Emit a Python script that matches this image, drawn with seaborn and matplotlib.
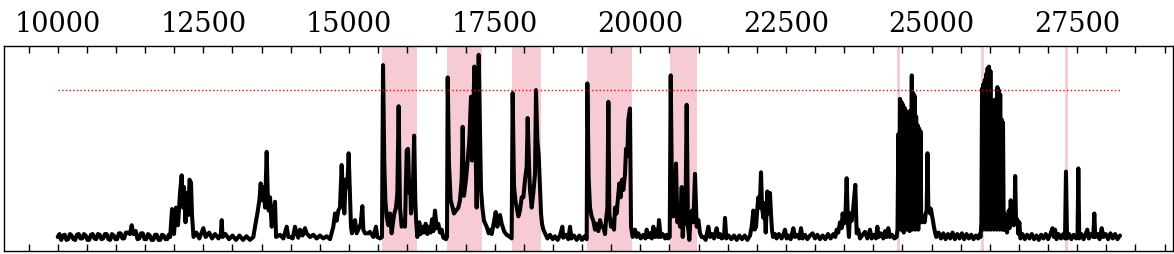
import numpy as np
import pandas as pd
import matplotlib
matplotlib.use("Agg")
import matplotlib.pyplot as plt
from matplotlib.ticker import MultipleLocator
import seaborn as sns

# ---------------- data ----------------
x_part1 = [10000, 10030, 10060, 10090, 10120, 10150, 10180, 10210, 10240, 10270,
           10300, 10330, 10360, 10390, 10420, 10450, 10480, 10510, 10540, 10570,
           10600, 10630, 10660, 10690, 10720, 10750, 10780, 10810, 10840, 10870,
           10900, 10930, 10960, 10990, 11020, 11050, 11080, 11110, 11140, 11170,
           11200, 11240, 11270, 11300, 11340, 11370, 11400, 11430, 11460, 11490,
           11520, 11550, 11580, 11610, 11640, 11670, 11700, 11730, 11760, 11790,
           11820, 11850, 11880, 11905, 11930]
y_part1 = [0.0, 0.02, -0.02, 0.01, 0.015, -0.02, -0.015, 0.02, 0.01, -0.015,
           -0.02, 0.015, 0.02, -0.01, -0.01, 0.02, 0.01, -0.02, -0.02, 0.015,
           0.02, -0.01, -0.015, 0.02, 0.015, -0.015, -0.01, 0.02, 0.02, -0.015,
           -0.02, 0.02, 0.01, -0.015, -0.015, 0.025, 0.025, -0.01, -0.01, 0.03,
           0.03, 0.02, 0.08, 0.02, 0.04, -0.015, -0.01, 0.025, 0.025, -0.015,
           -0.015, 0.02, 0.01, -0.02, -0.02, 0.015, 0.015, -0.02, -0.02, 0.015,
           0.01, -0.015, -0.015, 0.015, 0.0]

x_part2 = [11962, 11996, 12031, 12065, 12099, 12128, 12150, 12167, 12193, 12219,
           12245, 12262, 12288, 12305, 12331, 12380, 12430, 12500, 12540, 12600,
           12650, 12700, 12760, 12800, 12815, 12830, 12880, 12940, 13000, 13060,
           13120, 13180, 13240, 13300, 13358, 13387, 13427, 13462, 13484, 13507,
           13530, 13559, 13587, 13605, 13622, 13645, 13673, 13702, 13730, 13748,
           13816, 13873, 13931, 13959]
y_part2 = [0.19, 0.02, 0.2, 0.08, 0.3, 0.42, 0.2, 0.34, 0.1, 0.3,
           0.15, 0.39, 0.37, 0.15, 0.0, 0.03, -0.01, 0.06, 0.0, 0.03,
           -0.01, 0.02, -0.01, 0.02, 0.115, 0.0, 0.02, -0.015, 0.01, -0.02,
           0.01, -0.02, 0.005, -0.02, 0.0, 0.07, 0.16, 0.25, 0.365, 0.25,
           0.34, 0.2, 0.58, 0.3, 0.18, 0.27, 0.07, 0.16, 0.24, 0.0,
           0.015, -0.01, 0.07, 0.0]

x_part3 = [13987, 14033, 14073, 14101, 14130, 14159, 14204, 14244, 14273, 14330,
           14388, 14445, 14502, 14559, 14616, 14674, 14731, 14760, 14788, 14817,
           14845, 14874, 14903, 14920, 14943, 14971, 14994, 15017, 15034, 15051,
           15074, 15103, 15131, 15160, 15200, 15229, 15246, 15274, 15332, 15360,
           15418, 15463, 15486, 15532, 15566, 15584, 15606, 15624, 15646, 15675,
           15704, 15732, 15761, 15778, 15807, 15830, 15852, 15875, 15904, 15933,
           15961, 15990, 16013, 16036]
y_part3 = [0.0, -0.01, 0.07, 0.025, -0.005, 0.05, 0.01, 0.06, 0.025, 0.0,
           0.015, -0.01, 0.01, -0.01, 0.005, -0.015, 0.07, 0.16, 0.11, 0.18,
           0.2, 0.49, 0.25, 0.16, 0.39, 0.34, 0.57, 0.27, 0.07, 0.025,
           0.07, 0.115, 0.025, 0.05, 0.09, 0.21, 0.05, 0.025, 0.025, 0.035,
           0.0, 0.07, 0.0, -0.01, 0.0, 1.17, 0.5, 0.25, 0.14, 0.08,
           0.16, 0.025, 0.115, 0.16, 0.2, 0.3, 0.89, 0.2, 0.07, 0.09,
           0.07, 0.59, 0.6, 0.3]

x_part4 = [16050, 16064, 16093, 16118, 16138, 16152, 16173, 16207, 16230, 16253,
           16287, 16316, 16345, 16373, 16402, 16425, 16448, 16476, 16505, 16533,
           16562, 16591, 16619, 16665, 16682, 16694, 16716, 16745, 16779, 16802,
           16837, 16877, 16905, 16934, 16951, 16974, 17008, 17037, 17066, 17094,
           17111, 17134, 17151, 17174, 17191, 17209, 17226, 17249, 17266, 17289,
           17317, 17363, 17397, 17420, 17449, 17478, 17518, 17546, 17569, 17592,
           17621, 17666, 17706, 17764, 17792, 17809, 17832, 17855, 17878, 17907,
           17935, 17964, 17993, 18021, 18050, 18067, 18095]
y_part4 = [0.37, 0.16, 0.27, 0.69, 0.25, 0.11, 0.0, 0.1, 0.02, 0.07,
           0.03, 0.09, 0.02, 0.07, 0.03, 0.12, 0.04, 0.18, 0.06, 0.09,
           0.03, 0.05, -0.005, -0.015, 0.0, 1.086, 0.5, 0.25, 0.2, 0.16,
           0.18, 0.2, 0.25, 0.39, 0.75, 0.28, 0.39, 0.52, 0.66, 0.955,
           0.52, 0.82, 1.16, 0.57, 0.2, 0.77, 1.24, 0.7, 0.32, 0.2,
           0.11, 0.07, 0.025, 0.05, 0.02, 0.08, 0.17, 0.07, 0.11, 0.15,
           0.09, 0.035, 0.015, 0.0, -0.01, 0.98, 0.35, 0.25, 0.2, 0.14,
           0.18, 0.27, 0.27, 0.39, 0.48, 0.81, 0.43]

x_part5 = [18107, 18136, 18164, 18193, 18210, 18233, 18256, 18279, 18296, 18313,
           18336, 18365, 18405, 18450, 18496, 18536, 18582, 18622, 18662, 18679,
           18725, 18765, 18794, 18817, 18862, 18908, 18954, 19000, 19045, 19080,
           19091, 19114, 19137, 19165, 19194, 19223, 19251, 19280, 19309, 19337,
           19366, 19394, 19412, 19435, 19452, 19469, 19497, 19526, 19549, 19566,
           19595, 19618, 19640, 19663, 19686, 19709, 19738, 19755, 19778, 19795,
           19823, 19841, 19869, 19909, 19938, 19967, 20007, 20053, 20087, 20110,
           20138, 20167]
y_part5 = [0.32, 0.2, 0.3, 0.43, 1.0, 0.66, 0.56, 0.32, 0.16, 0.09,
           0.05, 0.025, -0.01, 0.015, -0.015, 0.005, -0.02, 0.01, 0.07, -0.005,
           0.015, -0.015, 0.07, -0.01, 0.01, -0.02, 0.01, -0.02, 0.005, -0.015,
           1.045, 0.4, 0.2, 0.14, 0.11, 0.05, 0.09, 0.04, 0.115, 0.07,
           0.07, 0.02, 0.115, 0.2, 0.92, 0.16, 0.07, 0.115, 0.05, 0.2,
           0.16, 0.27, 0.365, 0.27, 0.39, 0.32, 0.43, 0.6, 0.55, 0.8,
           0.875, 0.07, 0.0, 0.05, 0.0, 0.025, -0.01, 0.015, -0.01, 0.05,
           0.0, 0.025]

x_part6 = [20196, 20224, 20253, 20281, 20304, 20321, 20350, 20384, 20425, 20453,
           20482, 20505, 20522, 20545, 20568, 20590, 20613, 20636, 20659, 20682,
           20711, 20728, 20751, 20774, 20796, 20819, 20842, 20865, 20888, 20911,
           20939, 20968, 20997, 21025, 21054, 21082, 21123, 21168, 21197, 21231,
           21266, 21311, 21340, 21369, 21397, 21437, 21454, 21477, 21517, 21563,
           21609, 21655, 21700, 21746, 21792, 21838, 21884, 21912, 21941, 21964,
           21987, 22010, 22027, 22050, 22072, 22090, 22113, 22130, 22153, 22181,
           22204]
y_part6 = [-0.01, 0.07, 0.0, 0.05, 0.0, 0.115, 0.0, 0.02, -0.01, 0.015,
           -0.01, 0.0, 1.1, 0.25, 0.14, 0.2, 0.5, 0.1, 0.15, 0.07,
           0.34, 0.0, 0.2, 0.09, 0.9, 0.07, -0.02, 0.14, 0.18, 0.1,
           0.43, 0.07, 0.115, 0.025, 0.0, 0.0, -0.02, 0.07, 0.0, 0.02,
           -0.01, 0.06, 0.0, 0.02, -0.01, 0.0, 0.13, -0.01, 0.01, -0.015,
           0.01, -0.02, 0.01, -0.015, 0.01, -0.02, 0.01, 0.07, 0.18, 0.05,
           0.07, 0.2, 0.27, 0.2, 0.44, 0.2, 0.13, 0.23, 0.03, 0.31,
           0.16]

x_part7 = [22226, 22243, 22260, 22278, 22312, 22340, 22380, 22426, 22455, 22484,
           22512, 22546, 22581, 22627, 22655, 22695, 22730, 22758, 22787, 22827,
           22867, 22913, 22958, 22999, 23039, 23084, 23130, 23176, 23222, 23267,
           23313, 23348, 23370, 23399, 23428, 23456, 23473, 23496, 23519, 23542,
           23565, 23582, 23599, 23628, 23656, 23691, 23714, 23742, 23771, 23817,
           23857, 23897, 23943, 23971, 24011, 24046, 24069, 24091, 24126, 24172,
           24200, 24229, 24257, 24286]
y_part7 = [0.3, 0.16, 0.05, 0.0, 0.02, -0.01, 0.02, -0.01, 0.015, 0.05,
           -0.01, 0.01, -0.015, 0.06, 0.0, 0.015, -0.01, 0.06, -0.01, 0.015,
           -0.015, 0.01, 0.025, -0.01, 0.015, -0.015, 0.01, -0.015, 0.02, -0.01,
           0.02, 0.0, 0.05, 0.03, 0.1, 0.06, 0.16, 0.09, 0.12, 0.4,
           0.09, 0.0, 0.16, 0.11, 0.2, 0.355, 0.025, 0.05, -0.01, 0.015,
           0.035, -0.01, 0.05, -0.01, 0.015, -0.01, 0.07, 0.0, 0.025, -0.01,
           0.04, 0.0, 0.06, 0.0]

x_part8 = [24320, 24360, 24400, 24415, 24430, 24445, 24458, 24470, 24483, 24496,
           24510, 24522, 24535, 24548, 24560, 24573, 24586, 24598, 24610, 24623,
           24636, 24648, 24660, 24672, 24685, 24697, 24710, 24722, 24735, 24748,
           24760, 24772, 24785, 24798, 24810, 24822, 24840, 24860, 24880, 24900,
           24915, 24930, 24945, 24960, 24975, 24990, 25005, 25020, 25040, 25060,
           25080, 25120, 25160, 25200, 25240, 25280, 25320, 25360, 25400, 25440,
           25480, 25520, 25560, 25600, 25640, 25680, 25720, 25760, 25800, 25830]
y_part8 = [0.015, -0.01, 0.0, 0.05, 0.7, 0.1, 0.94, 0.05, 0.92, 0.1,
           0.9, 0.03, 0.88, 0.08, 0.86, 0.05, 0.84, 0.1, 0.85, 0.04,
           0.86, 0.1, 1.1, 0.05, 0.98, 0.08, 0.96, 0.05, 0.82, 0.1,
           0.76, 0.05, 0.74, 0.1, 0.72, 0.12, 0.1, 0.14, 0.1, 0.16,
           0.18, 0.57, 0.18, 0.2, 0.16, 0.19, 0.15, 0.12, 0.07, 0.03,
           0.0, 0.03, -0.01, 0.025, -0.015, 0.02, -0.01, 0.03, -0.015, 0.02,
           -0.01, 0.025, -0.015, 0.02, -0.01, 0.015, -0.015, 0.01, -0.01, 0.02]

x_part9 = [25840, 25855, 25866, 25878, 25890, 25902, 25914, 25926, 25938, 25950,
           25962, 25974, 25986, 25998, 26010, 26022, 26034, 26046, 26058, 26070,
           26082, 26094, 26106, 26118, 26130, 26142, 26154, 26166, 26178, 26190,
           26202, 26214, 26226, 26238, 26250, 26265, 26280, 26295, 26310, 26325,
           26340, 26358, 26375, 26392, 26410, 26422, 26435, 26450, 26472, 26490,
           26506, 26525]
y_part9 = [0.0, 0.1, 1.01, 0.05, 1.04, 0.08, 1.07, 0.05, 1.11, 0.1,
           1.15, 0.05, 1.16, 0.1, 1.13, 0.05, 0.93, 0.1, 0.93, 0.05,
           0.92, 0.1, 0.94, 0.05, 1.02, 0.1, 1.0, 0.05, 0.97, 0.1,
           0.8, 0.05, 0.78, 0.05, 0.16, 0.05, 0.12, 0.03, 0.1, 0.18,
           0.06, 0.25, 0.12, 0.2, 0.08, 0.1, 0.415, 0.1, 0.12, 0.02,
           0.1, -0.01]

x_part10 = [26560, 26600, 26640, 26680, 26720, 26760, 26800, 26840, 26880, 26920,
            26960, 27000, 27040, 27075, 27100, 27120, 27145, 27180, 27220, 27260,
            27290, 27307, 27325, 27360, 27400, 27440, 27480, 27505, 27519, 27535,
            27570, 27610, 27650, 27673, 27700, 27740, 27775, 27793, 27810, 27850,
            27885, 27920, 27950, 27990, 28030, 28070, 28110, 28150, 28190, 28235]
y_part10 = [0.02, -0.015, 0.015, -0.01, 0.02, -0.015, 0.01, -0.02, 0.015, -0.01,
            0.02, -0.015, 0.02, 0.06, 0.0, 0.05, -0.015, 0.02, -0.01, 0.02,
            -0.01, 0.445, -0.01, 0.02, -0.015, 0.015, -0.01, 0.0, 0.467, -0.01,
            0.02, -0.015, 0.025, 0.05, -0.01, 0.02, 0.0, 0.16, 0.0, 0.02,
            -0.015, 0.06, 0.0, 0.02, -0.015, 0.025, -0.01, 0.02, -0.015, 0.01]

threshold = 1.0
span_starts = [15561, 16682, 17798, 19087, 20510, 24410, 25849, 27291]
span_ends = [16162, 17278, 18296, 19853, 20968, 24455, 25900, 27343]
major_step = 2500
minor_step = 500

# ---------------- assemble ----------------
xs = (x_part1 + x_part2 + x_part3 + x_part4 + x_part5 + x_part6 + x_part7
      + x_part8 + x_part9 + x_part10)
ys = (y_part1 + y_part2 + y_part3 + y_part4 + y_part5 + y_part6 + y_part7
      + y_part8 + y_part9 + y_part10)
df = pd.DataFrame({"x": xs, "y": ys})

sns.set_theme(style="white")
plt.rcParams["font.family"] = ["DejaVu Serif"]

fig = plt.figure(figsize=(11.74, 2.54), dpi=100)
ax = fig.add_axes([4 / 1174, 1 - 250.5 / 254, 1169 / 1174, 204.5 / 254])

for s, e in zip(span_starts, span_ends):
    ax.axvspan(s, e, color="#f6cbd3", lw=0, zorder=0)

sns.lineplot(data=df, x="x", y="y", ax=ax, color="black", linewidth=2.9,
             estimator=None, sort=False, zorder=2)
ax.hlines(threshold, df["x"].min(), df["x"].max(), colors="red",
          linestyles=":", linewidth=1.0, zorder=3)

ax.set_xlim(9078, 29144)
ax.set_ylim(-0.092, 1.30)
ax.set_xlabel("")
ax.set_ylabel("")
ax.set_yticks([])
ax.xaxis.set_major_locator(MultipleLocator(major_step))
ax.xaxis.set_minor_locator(MultipleLocator(minor_step))
ax.tick_params(axis="x", which="both", direction="in", top=True, bottom=True,
               labeltop=True, labelbottom=False, length=5, width=1.0,
               color="black", labelcolor="black", labelsize=19.5, pad=6)
for sp in ax.spines.values():
    sp.set_color("black")
    sp.set_linewidth(1.0)
    sp.set_visible(True)

fig.savefig("out.png", dpi=100)
